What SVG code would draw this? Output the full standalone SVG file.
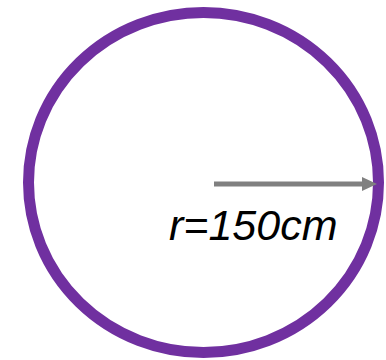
<svg xmlns="http://www.w3.org/2000/svg" width="386" height="360" viewBox="0 0 386 360">
<style>
.ring{fill:none;stroke:#7030A0;stroke-width:11}
.arr{stroke:#808080;stroke-width:5;fill:none}
.lbl{font-family:"Liberation Sans",Arial,sans-serif;font-style:italic;font-size:43px;fill:#000}
</style>
<defs>
<marker id="ah" markerUnits="userSpaceOnUse" markerWidth="16" markerHeight="16" refX="2" refY="7" orient="auto">
<path d="M0,0 L15,7 L0,14 Z" fill="#808080"/>
</marker>
</defs>
<g id="circle">
<ellipse class="ring" cx="203.5" cy="182.5" rx="175" ry="170"/>
</g>
<g id="connectors">
<line class="arr" x1="214" y1="184" x2="364" y2="184" marker-end="url(#ah)"/>
</g>
<g id="label">
<text class="lbl" x="169" y="240">r=150cm</text>
</g>
</svg>
